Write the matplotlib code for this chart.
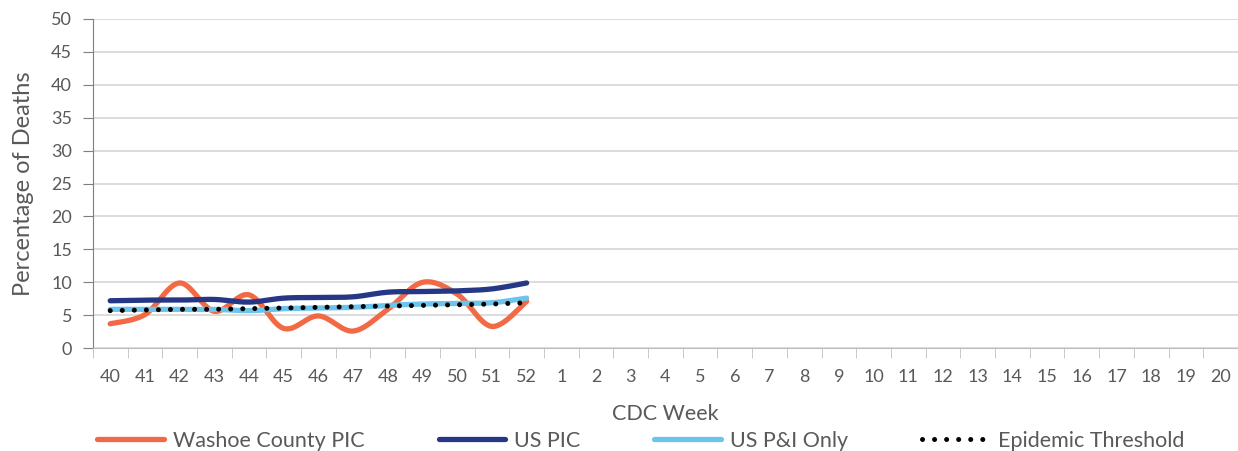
import numpy as np
import matplotlib.pyplot as plt

plt.rcParams['font.family'] = ['Lato', 'DejaVu Sans']

# data
weeks = [str(w) for w in list(range(40, 53)) + list(range(1, 21))]
washoe_pic = [3.7, 5.1, 9.9, 5.6, 8.1, 3.0, 4.9, 2.6, 5.9, 10.0, 8.2, 3.3, 7.1]
us_pic = [7.2, 7.3, 7.3, 7.4, 7.0, 7.6, 7.7, 7.8, 8.5, 8.6, 8.7, 9.0, 9.9]
us_pi_only = [5.9, 5.9, 5.9, 5.9, 5.7, 6.0, 6.1, 6.2, 6.5, 6.7, 6.8, 6.9, 7.6]
epi_threshold = [5.7, 5.8, 5.9, 5.9, 6.0, 6.1, 6.2, 6.3, 6.4, 6.5, 6.6, 6.7, 6.9]

text_color = '#595959'


def smooth(x, y, n=30):
    # Excel-like smoothed line: cubic bezier with Catmull-Rom control points
    x = np.asarray(x, float)
    y = np.asarray(y, float)
    pts = np.column_stack([x, y])
    out = []
    for i in range(len(pts) - 1):
        p0 = pts[i - 1] if i > 0 else pts[i]
        p1 = pts[i]
        p2 = pts[i + 1]
        p3 = pts[i + 2] if i + 2 < len(pts) else pts[i + 1]
        c1 = p1 + (p2 - p0) / 6
        c2 = p2 - (p3 - p1) / 6
        t = np.linspace(0, 1, n)[:, None]
        seg = ((1 - t) ** 3) * p1 + 3 * ((1 - t) ** 2) * t * c1 + 3 * (1 - t) * t ** 2 * c2 + t ** 3 * p2
        out.append(seg if i == 0 else seg[1:])
    seg = np.vstack(out)
    return seg[:, 0], seg[:, 1]


fig = plt.figure(figsize=(12.38, 4.51), dpi=100)
ax = fig.add_axes([0.075, 0.228, 0.925, 0.73])

xs = np.arange(len(washoe_pic))
sx, sy = smooth(xs, washoe_pic)
ax.plot(sx, sy, color='#F26A45', lw=3.8, solid_capstyle='round', label='Washoe County PIC', zorder=3)
sx, sy = smooth(xs, us_pic)
ax.plot(sx, sy, color='#253785', lw=3.8, solid_capstyle='round', label='US PIC', zorder=4)
sx, sy = smooth(xs, us_pi_only)
ax.plot(sx, sy, color='#6CC3EC', lw=3.8, solid_capstyle='round', label='US P&I Only', zorder=4)
ax.plot(xs, epi_threshold, color='black', lw=3.6, linestyle=(0, (0.01, 2.4)),
        dash_capstyle='round', label='Epidemic Threshold', zorder=5)

ax.set_xlim(-0.5, len(weeks) - 0.5)
ax.set_ylim(0, 50)
ax.set_yticks(range(0, 51, 5))
ax.set_xticks(range(len(weeks)))
ax.set_xticklabels(weeks)
ax.set_xticks(np.arange(-0.5, len(weeks), 1), minor=True)
ax.tick_params(axis='x', which='major', length=0, pad=15, labelsize=13, labelcolor=text_color)
ax.tick_params(axis='x', which='minor', length=7, color='#BFBFBF', direction='out')
ax.tick_params(axis='y', length=7, color='#7F7F7F', labelsize=13, labelcolor=text_color, pad=8)

ax.grid(axis='y', color='#D9D9D9', lw=1.3)
ax.set_axisbelow(True)
for s in ['top', 'right']:
    ax.spines[s].set_visible(False)
ax.spines['left'].set_color('#7F7F7F')
ax.spines['bottom'].set_color('#BFBFBF')

ax.set_xlabel('CDC Week', fontsize=15.5, color=text_color, labelpad=14)
ax.set_ylabel('Percentage of Deaths', fontsize=17, color=text_color, labelpad=12)

fig.legend(loc='lower left', bbox_to_anchor=(0.063, -0.042), ncol=4, frameon=False,
           fontsize=15.5, labelcolor=text_color, handlelength=3.1, handletextpad=0.4,
           columnspacing=3.45)

fig.savefig('out.png', dpi=100)
